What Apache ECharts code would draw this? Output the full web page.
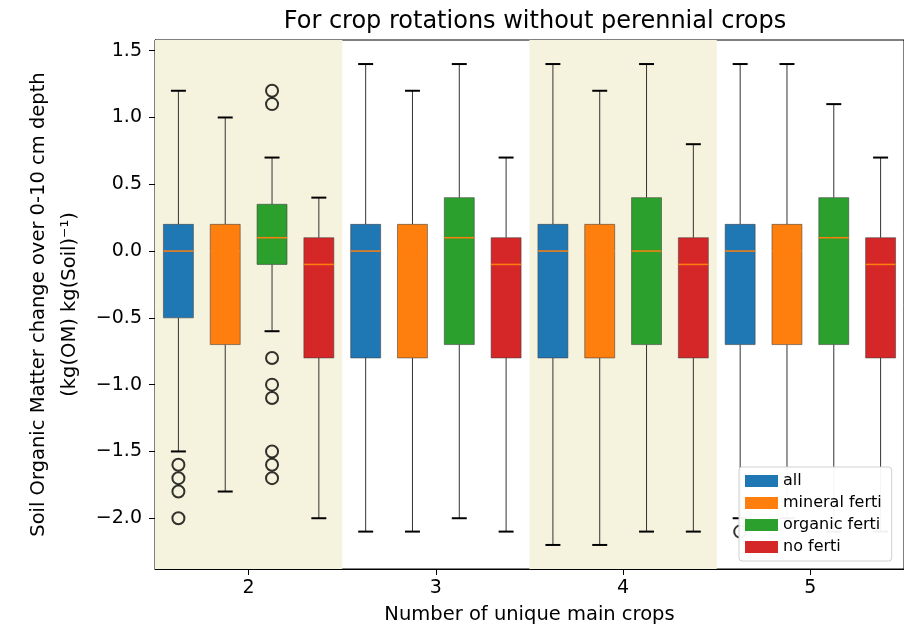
<!DOCTYPE html>
<html>
<head>
<meta charset="utf-8">
<script src="https://cdn.jsdelivr.net/npm/echarts@6/dist/echarts.min.js"></script>
<style>
html,body{margin:0;padding:0;background:#fff;}
#chart{width:904px;height:630px;}
</style>
</head>
<body>
<div id="chart"></div>
<script>
// ---------------- data ----------------
const groups = [2, 3, 4, 5];                       // number of unique main crops
const seriesNames = ['all', 'mineral ferti', 'organic ferti', 'no ferti'];
// per group: [min whisker, Q1, median, Q3, max whisker]
const allStats     = [[-1.5,-0.5,0.0,0.2,1.2],[-2.1,-0.8,0.0,0.2,1.4],[-2.2,-0.8,0.0,0.2,1.4],[-2.0,-0.7,0.0,0.2,1.4]];
const mineralStats = [[-1.8,-0.7,0.0,0.2,1.0],[-2.1,-0.8,0.0,0.2,1.2],[-2.2,-0.8,0.0,0.2,1.2],[-2.0,-0.7,0.0,0.2,1.4]];
const organicStats = [[-0.6,-0.1,0.1,0.35,0.7],[-2.0,-0.7,0.1,0.4,1.4],[-2.1,-0.7,0.0,0.4,1.4],[-2.1,-0.7,0.1,0.4,1.1]];
const noFertStats  = [[-2.0,-0.8,-0.1,0.1,0.4],[-2.1,-0.8,-0.1,0.1,0.7],[-2.1,-0.8,-0.1,0.1,0.8],[-2.1,-0.8,-0.1,0.1,0.7]];
// outliers: [group, value]
const allOutliers     = [[2,-1.6],[2,-1.7],[2,-1.8],[2,-2.0],[5,-2.1]];
const mineralOutliers = [];
const organicOutliers = [[2,1.2],[2,1.1],[2,-0.8],[2,-1.0],[2,-1.1],[2,-1.5],[2,-1.6],[2,-1.7]];
const noFertOutliers  = [];
const shadedGroups = [2, 4];
const yTicks = [-2.0, -1.5, -1.0, -0.5, 0.0, 0.5, 1.0, 1.5];
const xTicks = [2, 3, 4, 5];

// ---------------- styling ----------------
const colors = ['#1f77b4', '#ff7f0e', '#2ca02c', '#d62728'];
const offsets = [-0.375, -0.125, 0.125, 0.375];
const boxWidth = 0.16;
const FONT = 'DejaVu Sans';
const statsList = [allStats, mineralStats, organicStats, noFertStats];
const outlierList = [allOutliers, mineralOutliers, organicOutliers, noFertOutliers];

function renderBox(params, api) {
  const x = api.value(0);
  const cMin = api.coord([x, api.value(1)]);
  const cQ1 = api.coord([x, api.value(2)]);
  const cMed = api.coord([x, api.value(3)]);
  const cQ3 = api.coord([x, api.value(4)]);
  const cMax = api.coord([x, api.value(5)]);
  const half = api.size([boxWidth, 0])[0] / 2;
  const cap = half / 2;
  const fill = colors[params.seriesIndex];
  const cx = cMin[0];
  return {
    type: 'group',
    children: [
      {type: 'line', shape: {x1: cx, y1: cQ3[1], x2: cx, y2: cMax[1]}, style: {stroke: '#333', lineWidth: 1}},
      {type: 'line', shape: {x1: cx, y1: cQ1[1], x2: cx, y2: cMin[1]}, style: {stroke: '#333', lineWidth: 1}},
      {type: 'line', shape: {x1: cx - cap, y1: cMax[1], x2: cx + cap, y2: cMax[1]}, style: {stroke: '#000', lineWidth: 2}},
      {type: 'line', shape: {x1: cx - cap, y1: cMin[1], x2: cx + cap, y2: cMin[1]}, style: {stroke: '#000', lineWidth: 2}},
      {type: 'rect', shape: {x: cx - half, y: cQ3[1], width: half * 2, height: cQ1[1] - cQ3[1]},
        style: {fill: fill, stroke: 'rgba(60,60,60,0.55)', lineWidth: 1}},
      {type: 'line', shape: {x1: cx - half, y1: cMed[1], x2: cx + half, y2: cMed[1]}, style: {stroke: '#ff7f0e', lineWidth: 1.5}}
    ]
  };
}

const series = [];
seriesNames.forEach((name, i) => {
  const s = {
    name: name,
    type: 'custom',
    renderItem: renderBox,
    itemStyle: {color: colors[i]},
    encode: {x: 0, y: [1, 2, 3, 4, 5]},
    data: groups.map((g, k) => [g + offsets[i]].concat(statsList[i][k])),
    z: 3
  };
  if (i === 0) {
    s.markArea = {
      silent: true,
      itemStyle: {color: '#f5f3dd'},
      data: shadedGroups.map(g => [{xAxis: g - 0.5, yAxis: -2.38}, {xAxis: g + 0.5, yAxis: 1.58}]),
      z: 1
    };
  }
  series.push(s);
});
const outlierPoints = [];
outlierList.forEach((arr, i) => arr.forEach(p => outlierPoints.push([p[0] + offsets[i], p[1]])));
series.push({
  name: 'outliers',
  type: 'scatter',
  symbol: 'circle',
  symbolSize: 12,
  itemStyle: {color: 'rgba(0,0,0,0)', borderColor: '#000', borderWidth: 2},
  data: outlierPoints,
  z: 4
});

const fmt = v => (v < 0 ? '\u2212' : '') + Math.abs(v).toFixed(1);

const option = {
  animation: false,
  backgroundColor: '#fff',
  textStyle: {fontFamily: FONT},
  title: {
    text: 'For crop rotations without perennial crops',
    left: 530, textAlign: 'center', top: 5,
    textStyle: {fontFamily: FONT, fontSize: 24, fontWeight: 'normal', color: '#000'}
  },
  grid: {left: 155, top: 40, right: -3, bottom: 59, show: true, borderColor: '#000', borderWidth: 1, backgroundColor: 'transparent'},
  legend: {
    data: seriesNames,
    orient: 'vertical',
    left: 739, top: 467,
    icon: 'rect',
    itemWidth: 33, itemHeight: 12,
    itemGap: 6,
    padding: [6, 10, 6, 6],
    backgroundColor: 'rgba(255,255,255,0.95)',
    borderColor: '#d0d0d0', borderWidth: 1, borderRadius: 3,
    textStyle: {fontFamily: FONT, fontSize: 16, color: '#000'},
    z: 10
  },
  xAxis: {
    type: 'value', min: 1.5, max: 5.5,
    name: 'Number of unique main crops', nameLocation: 'middle', nameGap: 36,
    nameTextStyle: {fontFamily: FONT, fontSize: 19.5, color: '#000'},
    axisLine: {show: true, onZero: false, lineStyle: {color: '#000', width: 1}},
    axisTick: {show: true, length: 6, customValues: xTicks, lineStyle: {color: '#000'}},
    axisLabel: {customValues: xTicks, fontSize: 19, color: '#000', margin: 10, fontFamily: FONT},
    splitLine: {show: false}
  },
  yAxis: {
    type: 'value', min: -2.38, max: 1.58,
    name: '{a|Soil Organic Matter change over 0-10 cm depth}\n{a|(kg(OM) kg(Soil)\u207B\u00B9)}',
    nameLocation: 'middle', nameRotate: 90, nameGap: 68,
    nameTextStyle: {fontFamily: FONT, fontSize: 19.5, color: '#000', lineHeight: 31, align: 'center',
      rich: {a: {fontFamily: FONT, fontSize: 19.5, color: '#000', lineHeight: 31}}},
    axisLine: {show: true, onZero: false, lineStyle: {color: '#000', width: 1}},
    axisTick: {show: true, length: 6, customValues: yTicks, lineStyle: {color: '#000'}},
    axisLabel: {customValues: yTicks, formatter: fmt, fontSize: 19, color: '#000', margin: 13, fontFamily: FONT},
    splitLine: {show: false}
  },
  series: series
};

const chart = echarts.init(document.getElementById('chart'), null, {renderer: 'canvas'});
chart.setOption(option);
</script>
</body>
</html>
